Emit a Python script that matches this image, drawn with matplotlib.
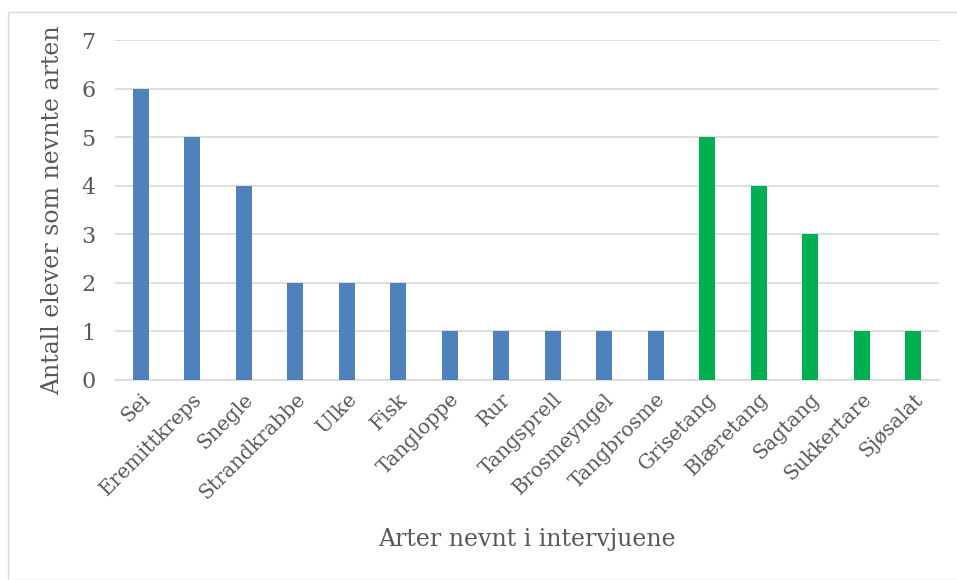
import matplotlib.pyplot as plt
from matplotlib.patches import Rectangle

# Species mentioned in the interviews
arter = ["Sei", "Eremittkreps", "Snegle", "Strandkrabbe", "Ulke", "Fisk",
         "Tangloppe", "Rur", "Tangsprell", "Brosmeyngel", "Tangbrosme",
         "Grisetang", "Blæretang", "Sagtang", "Sukkertare", "Sjøsalat"]
antall = [6, 5, 4, 2, 2, 2, 1, 1, 1, 1, 1, 5, 4, 3, 1, 1]
gruppe = ["dyr"] * 11 + ["alge"] * 5

farger = {"dyr": "#4F81BD", "alge": "#00B050"}
tekstfarge = "#595959"

plt.rcParams['font.family'] = ['DejaVu Serif']

fig = plt.figure(figsize=(9.57, 5.8), dpi=100)
ax = fig.add_axes([0.120, 0.345, 0.861, 0.586])

# light frame around the chart area
fig.patches.append(Rectangle((8 / 957, 0), 1, 1 - 12 / 580, transform=fig.transFigure,
                             fill=False, edgecolor="#D9D9D9", linewidth=1))

x = range(len(arter))
ax.bar(x, antall, width=0.31, color=[farger[g] for g in gruppe], zorder=3)

ax.set_xlim(-0.5, len(arter) - 0.5)
ax.set_ylim(0, 7)
ax.set_yticks(range(0, 8))
ax.grid(axis='y', color="#D9D9D9", linewidth=1.2, zorder=0)
for s in ["top", "right", "left"]:
    ax.spines[s].set_visible(False)
ax.spines["bottom"].set_color("#D9D9D9")
ax.spines["bottom"].set_linewidth(1.2)
ax.tick_params(axis='both', length=0, colors=tekstfarge, labelsize=14.5)
ax.tick_params(axis='y', pad=14, labelsize=16)
ax.tick_params(axis='x', pad=7)

ax.set_xticks(list(x))
ax.set_xticklabels(arter, rotation=45, ha='right', rotation_mode='anchor')

ax.set_ylabel("Antall elever som nevnte arten", fontsize=17, color=tekstfarge, labelpad=12)
ax.set_xlabel("Arter nevnt i intervjuene", fontsize=17, color=tekstfarge, labelpad=18)

fig.savefig("out.png", dpi=100)
